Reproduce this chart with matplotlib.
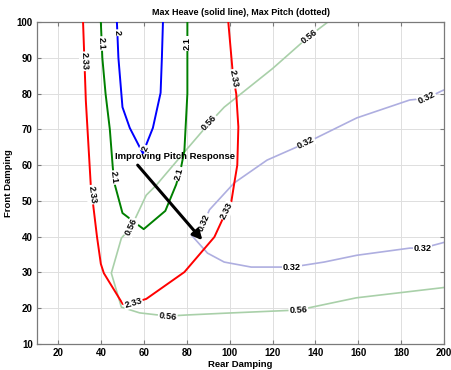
import numpy as np
import matplotlib
matplotlib.use('Agg')
import matplotlib.pyplot as plt

plt.rcParams['font.family'] = ['Liberation Sans', 'DejaVu Sans']

# heave contours (solid): rear damping (x), front damping (y)
heave_233_x = [31.5, 32.8, 35.1, 36.0, 38.0, 39.8, 41.2, 50.0, 52.0, 61.0, 78.8, 92.8, 96.5, 100.7, 102.0, 103.5, 104.0, 103.0, 101.5, 99.3]
heave_233_y = [100, 78, 54.4, 50, 40, 32.4, 29.8, 21.2, 21.0, 22.6, 30.1, 39.9, 44.7, 49.7, 54.6, 60, 70.7, 80, 85, 100]
heave_21_x = [39.8, 40.5, 42.0, 44.0, 45.4, 46.3, 49.9, 59.8, 69.9, 75.0, 77.3, 78.8, 80.2, 80.2]
heave_21_y = [100, 90, 80, 70, 59.2, 54.6, 46.6, 42.1, 47.2, 54.6, 59.5, 64, 80, 100]
heave_2_x = [47.3, 48.0, 49.9, 53.3, 59.4, 64.1, 67.7, 68.3, 68.8]
heave_2_y = [100, 90, 76.2, 70.4, 63.3, 70.4, 80.2, 90, 100]

# pitch contours (dotted in the title, drawn light)
pitch_056_x = [145.8, 137.0, 120.0, 97.4, 90.5, 79.6, 65.7, 61.0, 54.0, 49.4, 44.7, 49.4, 57.9, 71.0, 79.6, 97.4, 132.0, 159.0, 198.8, 200.0]
pitch_056_y = [100, 96, 87, 76.2, 71.8, 64.2, 54.4, 51.6, 42.7, 39.6, 29.8, 20.3, 18.7, 17.8, 18.1, 18.6, 19.5, 22.9, 25.7, 25.8]
pitch_032_x = [200.0, 198.8, 192.0, 184.0, 159.3, 135.6, 117.4, 102.0, 90.5, 88.0, 82.0, 89.6, 97.4, 110.0, 129.0, 144.0, 159.3, 184.0, 190.0, 198.8, 200.0]
pitch_032_y = [81.0, 80.7, 78.7, 78.2, 73.2, 66.2, 61.4, 55.0, 47.5, 44.0, 40.5, 35.4, 32.9, 31.5, 31.5, 32.9, 34.8, 36.8, 36.8, 38.2, 38.4]

# inline label positions (x, y) for each contour
labels_233 = [(31.6, 89), (33.7, 51.6), (55, 21.3), (99.5, 47), (100.8, 84)]
labels_21 = [(40.2, 94), (45.6, 56.5), (76.5, 57.5), (80.2, 94)]
labels_2 = [(47.5, 97), (61.3, 64.5)]
labels_056 = [(137, 96), (90.5, 71.8), (54, 42.7), (71, 17.8), (132, 19.5)]
labels_032 = [(192, 78.7), (135.6, 66.2), (88, 44), (129, 31.5), (190, 36.8)]

arrow_start = (57, 60)
arrow_end = (87.2, 39)

fig = plt.figure(figsize=(4.51, 3.70), dpi=100)
ax = fig.add_axes([37 / 451, 26 / 370, 407 / 451, 322 / 370])
ax.set_xlim(10, 200)
ax.set_ylim(10, 100)
ax.set_xticks(np.arange(20, 201, 20))
ax.set_yticks(np.arange(10, 101, 10))
ax.grid(True, color='#dedede', lw=0.7)
ax.set_axisbelow(True)
for s in ax.spines.values():
    s.set_color('#7a7a7a')
    s.set_linewidth(0.9)
ax.tick_params(direction='in', top=True, right=True, length=3, color='#7a7a7a',
               labelsize=7, pad=3)
for t in ax.get_xticklabels() + ax.get_yticklabels():
    t.set_fontweight('bold')


def put_labels(xs, ys, spots, text):
    pts = ax.transData.transform(np.column_stack([xs, ys]))
    for lx, ly in spots:
        p = ax.transData.transform((lx, ly))
        best = None
        for i in range(len(pts) - 1):
            a, b = pts[i], pts[i + 1]
            d = b - a
            t = np.clip(np.dot(p - a, d) / np.dot(d, d), 0, 1)
            q = a + t * d
            dist = np.hypot(*(p - q))
            if best is None or dist < best[0]:
                best = (dist, q, d)
        _, q, d = best
        ang = np.degrees(np.arctan2(d[1], d[0]))
        if ang > 90:
            ang -= 180
        if ang < -90:
            ang += 180
        x, y = ax.transData.inverted().transform(q)
        ax.text(x, y, text, rotation=ang, rotation_mode='anchor', ha='center',
                va='center', fontsize=6.6, fontweight='bold', zorder=6,
                bbox=dict(fc='white', ec='none', pad=0.6))


ax.plot(pitch_056_x, pitch_056_y, color='#a9d0a9', lw=1.2, zorder=2)
ax.plot(pitch_032_x, pitch_032_y, color='#aeaee0', lw=1.2, zorder=2)
ax.plot(heave_233_x, heave_233_y, color='#ff0000', lw=1.4, zorder=3)
ax.plot(heave_21_x, heave_21_y, color='#008000', lw=1.4, zorder=3)
ax.plot(heave_2_x, heave_2_y, color='#0000ff', lw=1.4, zorder=3)

put_labels(pitch_056_x, pitch_056_y, labels_056, '0.56')
put_labels(pitch_032_x, pitch_032_y, labels_032, '0.32')
put_labels(heave_233_x, heave_233_y, labels_233, '2.33')
put_labels(heave_21_x, heave_21_y, labels_21, '2.1')
put_labels(heave_2_x, heave_2_y, labels_2, '2')

ax.annotate('', xy=arrow_end, xytext=arrow_start, zorder=7,
            arrowprops=dict(arrowstyle='-|>', lw=2.2, color='black',
                            mutation_scale=14, shrinkA=0, shrinkB=0))
ax.text(46.3, 62.3, 'Improving Pitch Response', fontsize=6.8, fontweight='bold',
        ha='left', va='center', zorder=7)

ax.set_title('Max Heave (solid line), Max Pitch (dotted)', fontsize=6.5,
             fontweight='bold', pad=5)
ax.set_xlabel('Rear Damping', fontsize=6.8, fontweight='bold', labelpad=1)
ax.set_ylabel('Front Damping', fontsize=6.8, fontweight='bold', labelpad=3)

fig.savefig('out.png', dpi=100)
